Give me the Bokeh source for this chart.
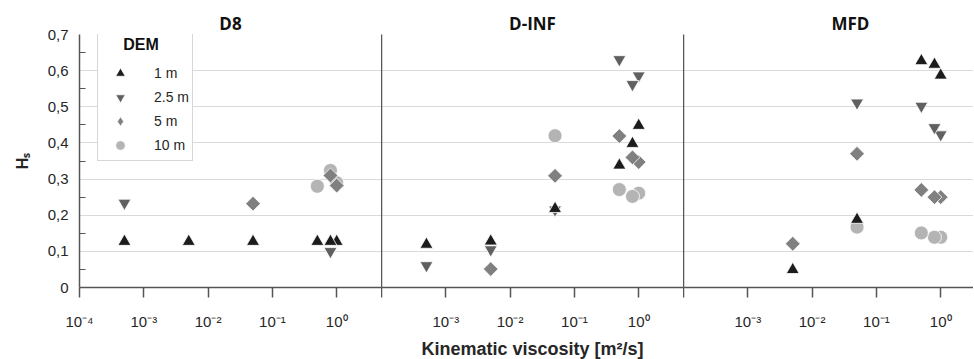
import math
from bokeh.plotting import figure
from bokeh.layouts import row
from bokeh.models import FixedTicker, Legend, LegendItem, Range1d, ColumnDataSource
from bokeh.embed import file_html
from bokeh.resources import INLINE

# ---------------- data ----------------
panel_names = ["D8", "D-INF", "MFD"]
dem_labels = ["1 m", "2.5 m", "5 m", "10 m"]
x_label = "Kinematic viscosity [m²/s]"
y_label = "Hₛ"

x_tick_values = [1e-4, 1e-3, 1e-2, 1e-1, 1.0]
x_tick_labels = ["10⁻⁴", "10⁻³", "10⁻²", "10⁻¹", "10⁰"]
y_tick_values = [0.0, 0.1, 0.2, 0.3, 0.4, 0.5, 0.6, 0.7]
y_tick_labels = ["0", "0,1", "0,2", "0,3", "0,4", "0,5", "0,6", "0,7"]
y_minor_ticks = [0.05, 0.15, 0.25, 0.35, 0.45, 0.55, 0.65]

# D8
d8_1m_x = [1.0, 0.8, 0.5, 0.05, 0.005, 0.0005]
d8_1m_y = [0.127, 0.127, 0.127, 0.127, 0.127, 0.127]
d8_25m_x = [0.8, 0.0005]
d8_25m_y = [0.100, 0.234]
d8_5m_x = [1.0, 0.8, 0.05]
d8_5m_y = [0.282, 0.310, 0.232]
d8_10m_x = [1.0, 0.8, 0.5]
d8_10m_y = [0.290, 0.324, 0.280]

# D-INF
dinf_1m_x = [1.0, 0.8, 0.5, 0.05, 0.005, 0.0005]
dinf_1m_y = [0.448, 0.398, 0.338, 0.218, 0.128, 0.119]
dinf_25m_x = [1.0, 0.8, 0.5, 0.05, 0.005, 0.0005]
dinf_25m_y = [0.586, 0.562, 0.631, 0.215, 0.105, 0.061]
dinf_5m_x = [1.0, 0.8, 0.5, 0.05, 0.005]
dinf_5m_y = [0.347, 0.360, 0.419, 0.309, 0.051]
dinf_10m_x = [1.0, 0.8, 0.5, 0.05]
dinf_10m_y = [0.261, 0.252, 0.271, 0.420]

# MFD
mfd_1m_x = [1.0, 0.8, 0.5, 0.05, 0.005]
mfd_1m_y = [0.587, 0.617, 0.627, 0.188, 0.049]
mfd_25m_x = [1.0, 0.8, 0.5, 0.05]
mfd_25m_y = [0.423, 0.443, 0.502, 0.511]
mfd_5m_x = [1.0, 0.8, 0.5, 0.05, 0.005]
mfd_5m_y = [0.250, 0.250, 0.270, 0.370, 0.121]
mfd_10m_x = [1.0, 0.8, 0.5, 0.05]
mfd_10m_y = [0.139, 0.139, 0.151, 0.167]

panel_series = [
    {"1 m": (d8_1m_x, d8_1m_y), "2.5 m": (d8_25m_x, d8_25m_y),
     "5 m": (d8_5m_x, d8_5m_y), "10 m": (d8_10m_x, d8_10m_y)},
    {"1 m": (dinf_1m_x, dinf_1m_y), "2.5 m": (dinf_25m_x, dinf_25m_y),
     "5 m": (dinf_5m_x, dinf_5m_y), "10 m": (dinf_10m_x, dinf_10m_y)},
    {"1 m": (mfd_1m_x, mfd_1m_y), "2.5 m": (mfd_25m_x, mfd_25m_y),
     "5 m": (mfd_5m_x, mfd_5m_y), "10 m": (mfd_10m_x, mfd_10m_y)},
]

# ---------------- styles ----------------
styles = {
    "1 m": dict(marker="triangle", size=13, color="#1c1c1c", angle=0.0),
    "2.5 m": dict(marker="inverted_triangle", size=13, color="#606060", angle=0.0),
    "5 m": dict(marker="square", size=10.5, color="#808080", angle=math.pi / 4),
    "10 m": dict(marker="circle", size=14, color="#b4b4b4", angle=0.0),
}
draw_order = ["10 m", "5 m", "2.5 m", "1 m"]

AXIS_COLOR = "#555555"
TEXT_COLOR = "#262626"
GRID_COLOR = "#dadada"
DECADE_PX = 64.3
FRAME_H = 253
frame_widths = [302, 302, 290]
LEFT = 79
TOP = 34
BOTTOM = 71


def make_panel(i):
    fw = frame_widths[i]
    x_end = 10 ** (fw / DECADE_PX - 4)
    p = figure(
        x_axis_type="log",
        frame_width=fw, frame_height=FRAME_H,
        x_range=Range1d(1e-4, x_end), y_range=Range1d(0, 0.7),
        output_backend="svg", toolbar_location=None,
        min_border_left=LEFT if i == 0 else 0, min_border_right=0,
        min_border_top=TOP, min_border_bottom=BOTTOM,
        background_fill_color="white", border_fill_color="white",
        outline_line_color=None,
    )
    # title
    p.title.text = panel_names[i]
    p.title.text_font = "Open Sans"
    p.title.text_font_style = "bold"
    p.title.text_font_size = "17px"
    p.title.text_color = "#111111"
    p.title.standoff = 0
    if i == 2:
        p.title.align = "left"
        p.title.offset = 148
    else:
        p.title.align = "center"

    # x axis
    xa = p.xaxis[0]
    if i == 0:
        xa.ticker = FixedTicker(ticks=x_tick_values, minor_ticks=[])
        xa.major_label_overrides = dict(zip(x_tick_values, x_tick_labels))
    else:
        # first decade boundary coincides with the panel divider: tick without label
        xa.ticker = FixedTicker(ticks=x_tick_values[1:], minor_ticks=x_tick_values[:1])
        xa.major_label_overrides = dict(zip(x_tick_values[1:], x_tick_labels[1:]))
    xa.major_label_text_font = "Liberation Sans"
    xa.major_label_text_font_size = "15px"
    xa.major_label_text_color = TEXT_COLOR
    xa.major_label_standoff = 15
    xa.major_tick_in = 0
    xa.major_tick_out = 10
    xa.major_tick_line_color = AXIS_COLOR
    xa.major_tick_line_width = 1.5
    xa.minor_tick_in = 0
    xa.minor_tick_out = 10
    xa.minor_tick_line_color = AXIS_COLOR
    xa.minor_tick_line_width = 1.5
    xa.axis_line_color = AXIS_COLOR
    xa.axis_line_width = 1.5
    if i == 1:
        xa.axis_label = x_label
        xa.axis_label_text_font = "Liberation Sans"
        xa.axis_label_text_font_style = "bold"
        xa.axis_label_text_font_size = "18px"
        xa.axis_label_text_color = TEXT_COLOR
        xa.axis_label_standoff = 6

    # y axis
    ya = p.yaxis[0]
    ya.axis_line_color = AXIS_COLOR
    ya.axis_line_width = 1.5
    ya.major_tick_in = 0
    ya.major_tick_out = 0
    if i == 0:
        ya.ticker = FixedTicker(ticks=y_tick_values, minor_ticks=y_minor_ticks)
        ya.major_label_overrides = dict(zip(y_tick_values, y_tick_labels))
        ya.major_label_text_font = "Liberation Sans"
        ya.major_label_text_font_size = "15px"
        ya.major_label_text_color = TEXT_COLOR
        ya.major_label_standoff = 11
        ya.minor_tick_in = 6
        ya.minor_tick_out = 0
        ya.minor_tick_line_color = AXIS_COLOR
        ya.minor_tick_line_width = 1.2
        ya.axis_label = y_label
        ya.axis_label_text_font = "Liberation Sans"
        ya.axis_label_text_font_style = "bold"
        ya.axis_label_text_font_size = "16px"
        ya.axis_label_text_color = TEXT_COLOR
        ya.axis_label_standoff = 14
    else:
        # divider line only: no ticks, no labels
        ya.ticker = FixedTicker(ticks=[], minor_ticks=[])
        ya.major_label_standoff = 0
        ya.minor_tick_in = 0
        ya.minor_tick_out = 0

    p.xgrid.grid_line_color = None
    p.ygrid.ticker = FixedTicker(ticks=y_tick_values, minor_ticks=[])
    p.ygrid.grid_line_color = GRID_COLOR
    p.ygrid.grid_line_width = 1

    renderers = {}
    for name in draw_order:
        xs, ys = panel_series[i][name]
        st = styles[name]
        src = ColumnDataSource(data=dict(x=xs, y=ys))
        r = p.scatter("x", "y", source=src, marker=st["marker"], size=st["size"],
                      angle=st["angle"], fill_color=st["color"],
                      line_color="white", line_width=0.8)
        renderers[name] = r
        if name == "5 m" and i == 0:
            # legend swatch (legend glyphs ignore marker rotation): hidden diamond twin
            renderers["5 m legend"] = p.scatter(
                "x", "y", source=src, marker="diamond", size=st["size"],
                fill_color=st["color"], line_color="white", line_width=0.8,
                visible=False)
    return p, renderers


figs = []
all_renderers = []
for i in range(3):
    p, rs = make_panel(i)
    figs.append(p)
    all_renderers.append(rs)

p1 = figs[0]
legend_renderers = {
    "1 m": all_renderers[0]["1 m"],
    "2.5 m": all_renderers[0]["2.5 m"],
    "5 m": all_renderers[0]["5 m legend"],
    "10 m": all_renderers[0]["10 m"],
}
legend = Legend(
    items=[LegendItem(label=lab, renderers=[legend_renderers[lab]]) for lab in dem_labels],
    location=(18, 126),
    title="\u00a0" * 5 + "DEM",
    title_text_font="Liberation Sans", title_text_font_style="bold",
    title_text_font_size="16px", title_text_color="#111111",
    title_standoff=7,
    label_text_font="Liberation Sans", label_text_font_size="14px",
    label_text_color=TEXT_COLOR,
    glyph_width=38, glyph_height=24, label_height=20, label_standoff=15,
    spacing=0, padding=3, margin=0,
    border_line_color="#b0b0b0", border_line_width=1,
    background_fill_color="white", background_fill_alpha=1.0,
)
p1.add_layout(legend)

layout = row(*figs, spacing=0)

with open("out.html", "w") as f:
    f.write(file_html(layout, INLINE))
